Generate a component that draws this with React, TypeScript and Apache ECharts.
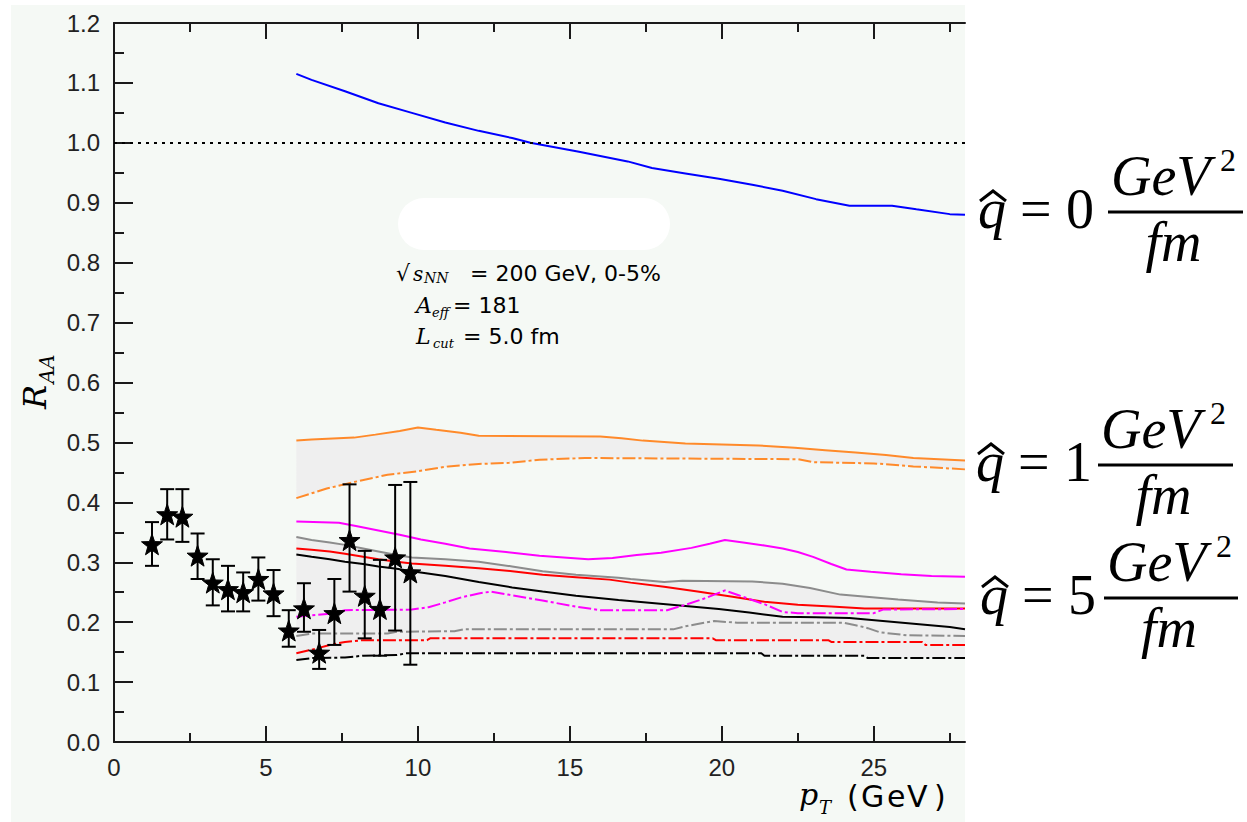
import React, { useEffect, useRef } from 'react';
import * as echarts from 'echarts';

// Axis ticks
const xMajorTicks = [0, 5, 10, 15, 20, 25];
const xTopMajorTicks = [5, 10, 15, 20, 25];
const xMinorTicks = [2.5, 7.5, 12.5, 17.5, 22.5, 27.5];

// Measured points (pT, R_AA) with error bar bounds
const dataPT = [1.25, 1.75, 2.25, 2.75, 3.25, 3.75, 4.25, 4.75, 5.25, 5.75, 6.25, 6.75, 7.25, 7.75, 8.25, 8.75, 9.25, 9.75];
const dataRAA = [0.330, 0.380, 0.376, 0.311, 0.266, 0.255, 0.250, 0.272, 0.248, 0.186, 0.223, 0.149, 0.215, 0.337, 0.244, 0.222, 0.308, 0.283];
const dataHi = [0.367, 0.422, 0.422, 0.348, 0.305, 0.294, 0.283, 0.308, 0.287, 0.220, 0.265, 0.187, 0.272, 0.430, 0.319, 0.304, 0.429, 0.434];
const dataLo = [0.294, 0.338, 0.334, 0.272, 0.228, 0.218, 0.218, 0.236, 0.210, 0.159, 0.184, 0.122, 0.162, 0.251, 0.173, 0.144, 0.186, 0.129];

// q̂ = 0
const q0Curve = [[6.0, 1.115], [6.5, 1.105], [7.6, 1.086], [8.7, 1.066], [9.8, 1.050], [10.9, 1.034], [12.0, 1.020], [13.1, 1.008], [13.7, 1.0], [15.3, 0.985], [16.9, 0.969], [17.7, 0.958], [18.8, 0.949], [19.9, 0.940], [21.0, 0.930], [22.0, 0.920], [23.1, 0.906], [24.2, 0.895], [25.6, 0.895], [26.4, 0.889], [27.5, 0.881], [28, 0.880]];

// q̂ = 1
const q1Upper = [[6, 0.503], [6.5, 0.505], [7.9, 0.508], [8.6, 0.513], [9.4, 0.519], [10.0, 0.525], [10.6, 0.521], [11.4, 0.516], [12.0, 0.511], [16.0, 0.510], [16.7, 0.507], [17.4, 0.503], [18.8, 0.498], [21.2, 0.495], [22.4, 0.491], [23.4, 0.487], [24.4, 0.483], [25.4, 0.479], [26.3, 0.474], [28, 0.470]];
const q1Lower = [[6, 0.407], [7, 0.423], [8, 0.435], [9, 0.446], [10, 0.452], [11, 0.460], [12, 0.464], [13, 0.466], [14, 0.471], [15.5, 0.474], [22.5, 0.472], [23, 0.467], [25, 0.465], [26.3, 0.460], [28, 0.455]];

// q̂ = 5 family
const magentaSolid = [[6, 0.368], [7.4, 0.366], [8.0, 0.360], [8.7, 0.353], [9.4, 0.346], [10.1, 0.338], [10.9, 0.331], [11.7, 0.323], [12.9, 0.317], [14.0, 0.311], [15.6, 0.305], [16.4, 0.307], [17.2, 0.312], [18.0, 0.316], [19.0, 0.324], [19.6, 0.331], [20.1, 0.337], [20.7, 0.333], [21.4, 0.328], [22.0, 0.323], [22.5, 0.317], [23.0, 0.309], [23.6, 0.297], [24.1, 0.288], [24.9, 0.284], [25.9, 0.280], [26.9, 0.277], [28, 0.276]];
const graySolid = [[6, 0.342], [6.5, 0.337], [7.1, 0.333], [7.6, 0.329], [8.2, 0.323], [8.7, 0.318], [9.3, 0.312], [9.8, 0.308], [10.9, 0.305], [12.0, 0.301], [13.1, 0.293], [14.1, 0.285], [15.2, 0.279], [16.6, 0.274], [17.0, 0.272], [18.1, 0.267], [18.7, 0.269], [21.0, 0.268], [22.0, 0.264], [22.9, 0.257], [23.9, 0.246], [25.8, 0.238], [27.1, 0.233], [28, 0.231]];
const redSolid = [[6, 0.323], [6.5, 0.321], [7.1, 0.318], [7.6, 0.314], [8.2, 0.309], [8.7, 0.305], [9.3, 0.301], [9.8, 0.298], [10.9, 0.294], [12.0, 0.290], [13.1, 0.285], [14.1, 0.279], [15.2, 0.275], [16.3, 0.271], [17.0, 0.266], [18.1, 0.259], [19.2, 0.251], [20.3, 0.243], [21.4, 0.234], [22.5, 0.229], [23.6, 0.226], [24.7, 0.223], [28, 0.223]];
const blackSolid = [[6, 0.313], [6.5, 0.309], [7.1, 0.305], [7.6, 0.301], [8.2, 0.297], [8.7, 0.293], [9.3, 0.289], [9.8, 0.285], [10.9, 0.277], [12.0, 0.267], [13.1, 0.258], [14.1, 0.251], [15.2, 0.244], [16.6, 0.237], [17.7, 0.232], [18.8, 0.227], [19.9, 0.222], [20.9, 0.216], [22.0, 0.209], [23.1, 0.208], [24.2, 0.207], [25.3, 0.202], [26.4, 0.197], [27.5, 0.192], [28, 0.188]];
const magentaDash = [[6, 0.209], [7.1, 0.214], [7.6, 0.220], [9.8, 0.221], [10.35, 0.225], [10.9, 0.233], [11.4, 0.241], [12.0, 0.248], [12.4, 0.251], [13.1, 0.245], [14.1, 0.236], [15.2, 0.226], [16.0, 0.220], [18.2, 0.220], [18.8, 0.229], [19.4, 0.239], [20.1, 0.253], [20.6, 0.244], [21.4, 0.230], [22.0, 0.217], [22.5, 0.215], [25.0, 0.215], [25.3, 0.221], [28, 0.222]];
const grayDash = [[6, 0.177], [6.5, 0.181], [9.0, 0.181], [9.3, 0.184], [11.2, 0.185], [11.5, 0.188], [18.4, 0.188], [18.8, 0.193], [19.2, 0.197], [19.75, 0.202], [20.5, 0.199], [24.0, 0.199], [24.4, 0.195], [24.8, 0.190], [25.2, 0.183], [26.1, 0.178], [28, 0.177]];
const redDash = [[6, 0.148], [6.5, 0.154], [7.1, 0.162], [7.6, 0.167], [8.2, 0.170], [10.3, 0.170], [10.4, 0.173], [19.7, 0.173], [19.8, 0.170], [23.5, 0.170], [23.6, 0.167], [26.6, 0.167], [26.7, 0.162], [28, 0.162]];
const blackDash = [[6, 0.137], [6.5, 0.140], [7.6, 0.141], [8.2, 0.144], [9.3, 0.145], [9.6, 0.148], [21.3, 0.148], [21.4, 0.144], [24.7, 0.144], [24.8, 0.140], [28, 0.140]];

// Shaded bands: upper / lower envelopes
const bands = [
  { upper: q1Upper, lower: q1Lower },
  { upper: graySolid, lower: blackDash },
];

const AXIS = '#1a1a1a';
const DASH_DOT = [13, 3, 3, 3];
const STAR = 'path://M0,-10L2.35,-3.24L9.51,-3.09L3.8,1.24L5.88,8.09L0,4.2L-5.88,8.09L-3.8,1.24L-9.51,-3.09L-2.35,-3.24Z';

const SERIF = "'Liberation Serif', 'Times New Roman', serif";
const DSERIF = "'DejaVu Serif', serif";
const SANS = "'DejaVu Sans', sans-serif";

function curve(data: number[][], color: string, dashed: boolean) {
  return {
    type: 'line',
    data,
    symbol: 'none',
    showSymbol: false,
    silent: true,
    z: 3,
    lineStyle: { color, width: 2, type: dashed ? DASH_DOT : 'solid' },
  };
}

function text(t: string, x: number, y: number, size: number, family: string, italic = false, align = 'left') {
  return {
    type: 'text',
    x,
    y,
    z: 30,
    silent: true,
    style: {
      text: t,
      fontSize: size,
      fontFamily: family,
      fontStyle: italic ? 'italic' : 'normal',
      fill: '#000',
      align,
      verticalAlign: 'middle',
    },
  };
}

// q̂ = N GeV²/fm label
function qLabel(digit: string, x0: number, lineY: number, lx1: number, lx2: number) {
  const mid = (lx1 + lx2) / 2;
  return [
    {
      type: 'polyline',
      z: 30,
      silent: true,
      shape: { points: [[x0 + 2, lineY - 11], [x0 + 15, lineY - 21], [x0 + 28, lineY - 11]] },
      style: { stroke: '#000', lineWidth: 3, fill: 'none' },
    },
    text('q', x0, lineY - 3, 56, SERIF, true),
    text('=', x0 + 42, lineY - 3, 56, SERIF),
    text(digit, x0 + 88, lineY - 3, 56, SERIF),
    {
      type: 'rect',
      z: 30,
      silent: true,
      shape: { x: lx1, y: lineY - 1.5, width: lx2 - lx1, height: 3 },
      style: { fill: '#000' },
    },
    text('GeV', lx1 + 3, lineY - 36, 56, SERIF, true),
    text('2', lx1 + 112, lineY - 52, 32, SERIF),
    text('fm', mid - 2, lineY + 30, 56, SERIF, true, 'center'),
  ];
}

export default function App() {
  const ref = useRef<HTMLDivElement>(null);

  useEffect(() => {
    if (!ref.current) return;
    const chart = echarts.init(ref.current, undefined, { renderer: 'svg' });

    const tickLine = { color: AXIS, width: 2 };
    const hiddenLabel = { show: false };

    const option: any = {
      animation: false,
      backgroundColor: '#ffffff',
      grid: { left: 114, right: 282, top: 23, bottom: 80, containLabel: false },
      xAxis: [
        {
          type: 'value', min: 0, max: 28, position: 'bottom',
          axisLine: { show: true, onZero: false, lineStyle: tickLine },
          axisTick: { show: true, inside: true, length: 16, customValues: xMajorTicks, lineStyle: tickLine },
          axisLabel: { customValues: xMajorTicks, fontSize: 24, fontFamily: "'Liberation Sans', sans-serif", color: '#222', margin: 13 },
          splitLine: { show: false },
        },
        {
          type: 'value', min: 0, max: 28, position: 'bottom',
          axisLine: { show: false, onZero: false },
          axisTick: { show: true, inside: true, length: 9, customValues: xMinorTicks, lineStyle: tickLine },
          axisLabel: hiddenLabel,
          splitLine: { show: false },
        },
        {
          type: 'value', min: 0, max: 28, position: 'top',
          axisLine: { show: true, onZero: false, lineStyle: tickLine },
          axisTick: { show: true, inside: true, length: 16, customValues: xTopMajorTicks, lineStyle: tickLine },
          axisLabel: hiddenLabel,
          splitLine: { show: false },
        },
        {
          type: 'value', min: 0, max: 28, position: 'top',
          axisLine: { show: false, onZero: false },
          axisTick: { show: true, inside: true, length: 9, customValues: xMinorTicks, lineStyle: tickLine },
          axisLabel: hiddenLabel,
          splitLine: { show: false },
        },
      ],
      yAxis: {
        type: 'value', min: 0, max: 1.2, interval: 0.1,
        axisLine: { show: true, onZero: false, lineStyle: tickLine },
        axisTick: { show: true, inside: true, length: 19, lineStyle: tickLine },
        minorTick: { show: true, splitNumber: 2, length: 10, lineStyle: tickLine },
        axisLabel: {
          formatter: (v: number) => v.toFixed(1),
          fontSize: 24, fontFamily: "'Liberation Sans', sans-serif", color: '#222', margin: 14,
        },
        splitLine: { show: false },
        minorSplitLine: { show: false },
      },
      series: [
        {
          type: 'custom',
          silent: true,
          z: 1,
          data: bands.map((_, i) => [i, 0]),
          renderItem: (params: any, api: any) => {
            const b = bands[params.dataIndex];
            const pts = b.upper.map((p) => api.coord(p))
              .concat(b.lower.slice().reverse().map((p) => api.coord(p)));
            return { type: 'polygon', shape: { points: pts }, style: { fill: '#efefef' } };
          },
        },
        {
          ...curve(q0Curve, '#0000ff', false),
          markLine: {
            silent: true,
            symbol: 'none',
            label: { show: false },
            lineStyle: { color: '#000', width: 2, type: [3, 5] },
            data: [{ yAxis: 1 }],
          },
        },
        curve(q1Upper, '#ff8a2a', false),
        curve(q1Lower, '#ff8a2a', true),
        curve(magentaSolid, '#ff00ff', false),
        curve(graySolid, '#8c8c8c', false),
        curve(redSolid, '#ff0000', false),
        curve(blackSolid, '#000000', false),
        curve(magentaDash, '#ff00ff', true),
        curve(grayDash, '#8c8c8c', true),
        curve(redDash, '#ff0000', true),
        curve(blackDash, '#000000', true),
        {
          type: 'custom',
          silent: true,
          z: 5,
          data: dataPT.map((x, i) => [x, dataLo[i], dataHi[i]]),
          encode: { x: 0, y: [1, 2] },
          renderItem: (_params: any, api: any) => {
            const x = api.value(0);
            const lo = api.coord([x, api.value(1)]);
            const hi = api.coord([x, api.value(2)]);
            const w = 7;
            const st = { stroke: '#000', lineWidth: 2 };
            return {
              type: 'group',
              children: [
                { type: 'line', shape: { x1: lo[0], y1: lo[1], x2: hi[0], y2: hi[1] }, style: st },
                { type: 'line', shape: { x1: lo[0] - w, y1: lo[1], x2: lo[0] + w, y2: lo[1] }, style: st },
                { type: 'line', shape: { x1: hi[0] - w, y1: hi[1], x2: hi[0] + w, y2: hi[1] }, style: st },
              ],
            };
          },
        },
        {
          type: 'scatter',
          silent: true,
          z: 6,
          symbol: STAR,
          symbolSize: 21,
          itemStyle: { color: '#000', opacity: 1, borderColor: '#000', borderWidth: 1 },
          data: dataPT.map((x, i) => [x, dataRAA[i]]),
        },
      ],
      graphic: {
        elements: [
          {
            type: 'rect', z: -1, silent: true,
            shape: { x: 11, y: 5, width: 954, height: 817 },
            style: { fill: '#f5f9f5' },
          },
          {
            type: 'rect', z: 10, silent: true,
            shape: { x: 398, y: 198, width: 272, height: 52, r: 26 },
            style: { fill: '#ffffff' },
          },
          // collision parameters
          text('\u221A', 396, 273, 22, SANS),
          text('s', 413, 274, 20, DSERIF, true),
          text('NN', 424, 278, 14, DSERIF, true),
          text('= 200 GeV, 0-5%', 470, 273, 22, SANS),
          text('A', 416, 305, 22, DSERIF, true),
          text('eff', 432, 312, 13, DSERIF, true),
          text('= 181', 453, 305, 22, SANS),
          text('L', 416, 336, 22, DSERIF, true),
          text('cut', 433, 343, 13, DSERIF, true),
          text('= 5.0 fm', 463, 336, 22, SANS),
          // axis titles
          {
            type: 'group', x: 35, y: 397, rotation: Math.PI / 2, z: 30,
            children: [
              text('R', 0, 0, 32, DSERIF, true, 'center'),
              text('AA', 28, 12, 20, DSERIF, true, 'center'),
            ],
          },
          text('p', 799, 794, 30, DSERIF, true),
          text('T', 819, 807, 18, DSERIF, true),
          text('(', 847, 796, 30, SANS),
          text('G', 861, 796, 30, SANS),
          text('e', 887, 796, 30, SANS),
          text('V', 907, 796, 30, SANS),
          text(')', 934, 796, 30, SANS),
          // transport coefficient labels
          ...qLabel('0', 978, 212, 1108, 1243),
          ...qLabel('1', 976, 465, 1098, 1233),
          ...qLabel('5', 980, 598, 1104, 1238),
        ],
      },
    };

    chart.setOption(option);
    return () => chart.dispose();
  }, []);

  return (
    <div
      ref={ref}
      style={{ position: 'absolute', left: 0, top: 0, width: 1247, height: 822 }}
    />
  );
}
